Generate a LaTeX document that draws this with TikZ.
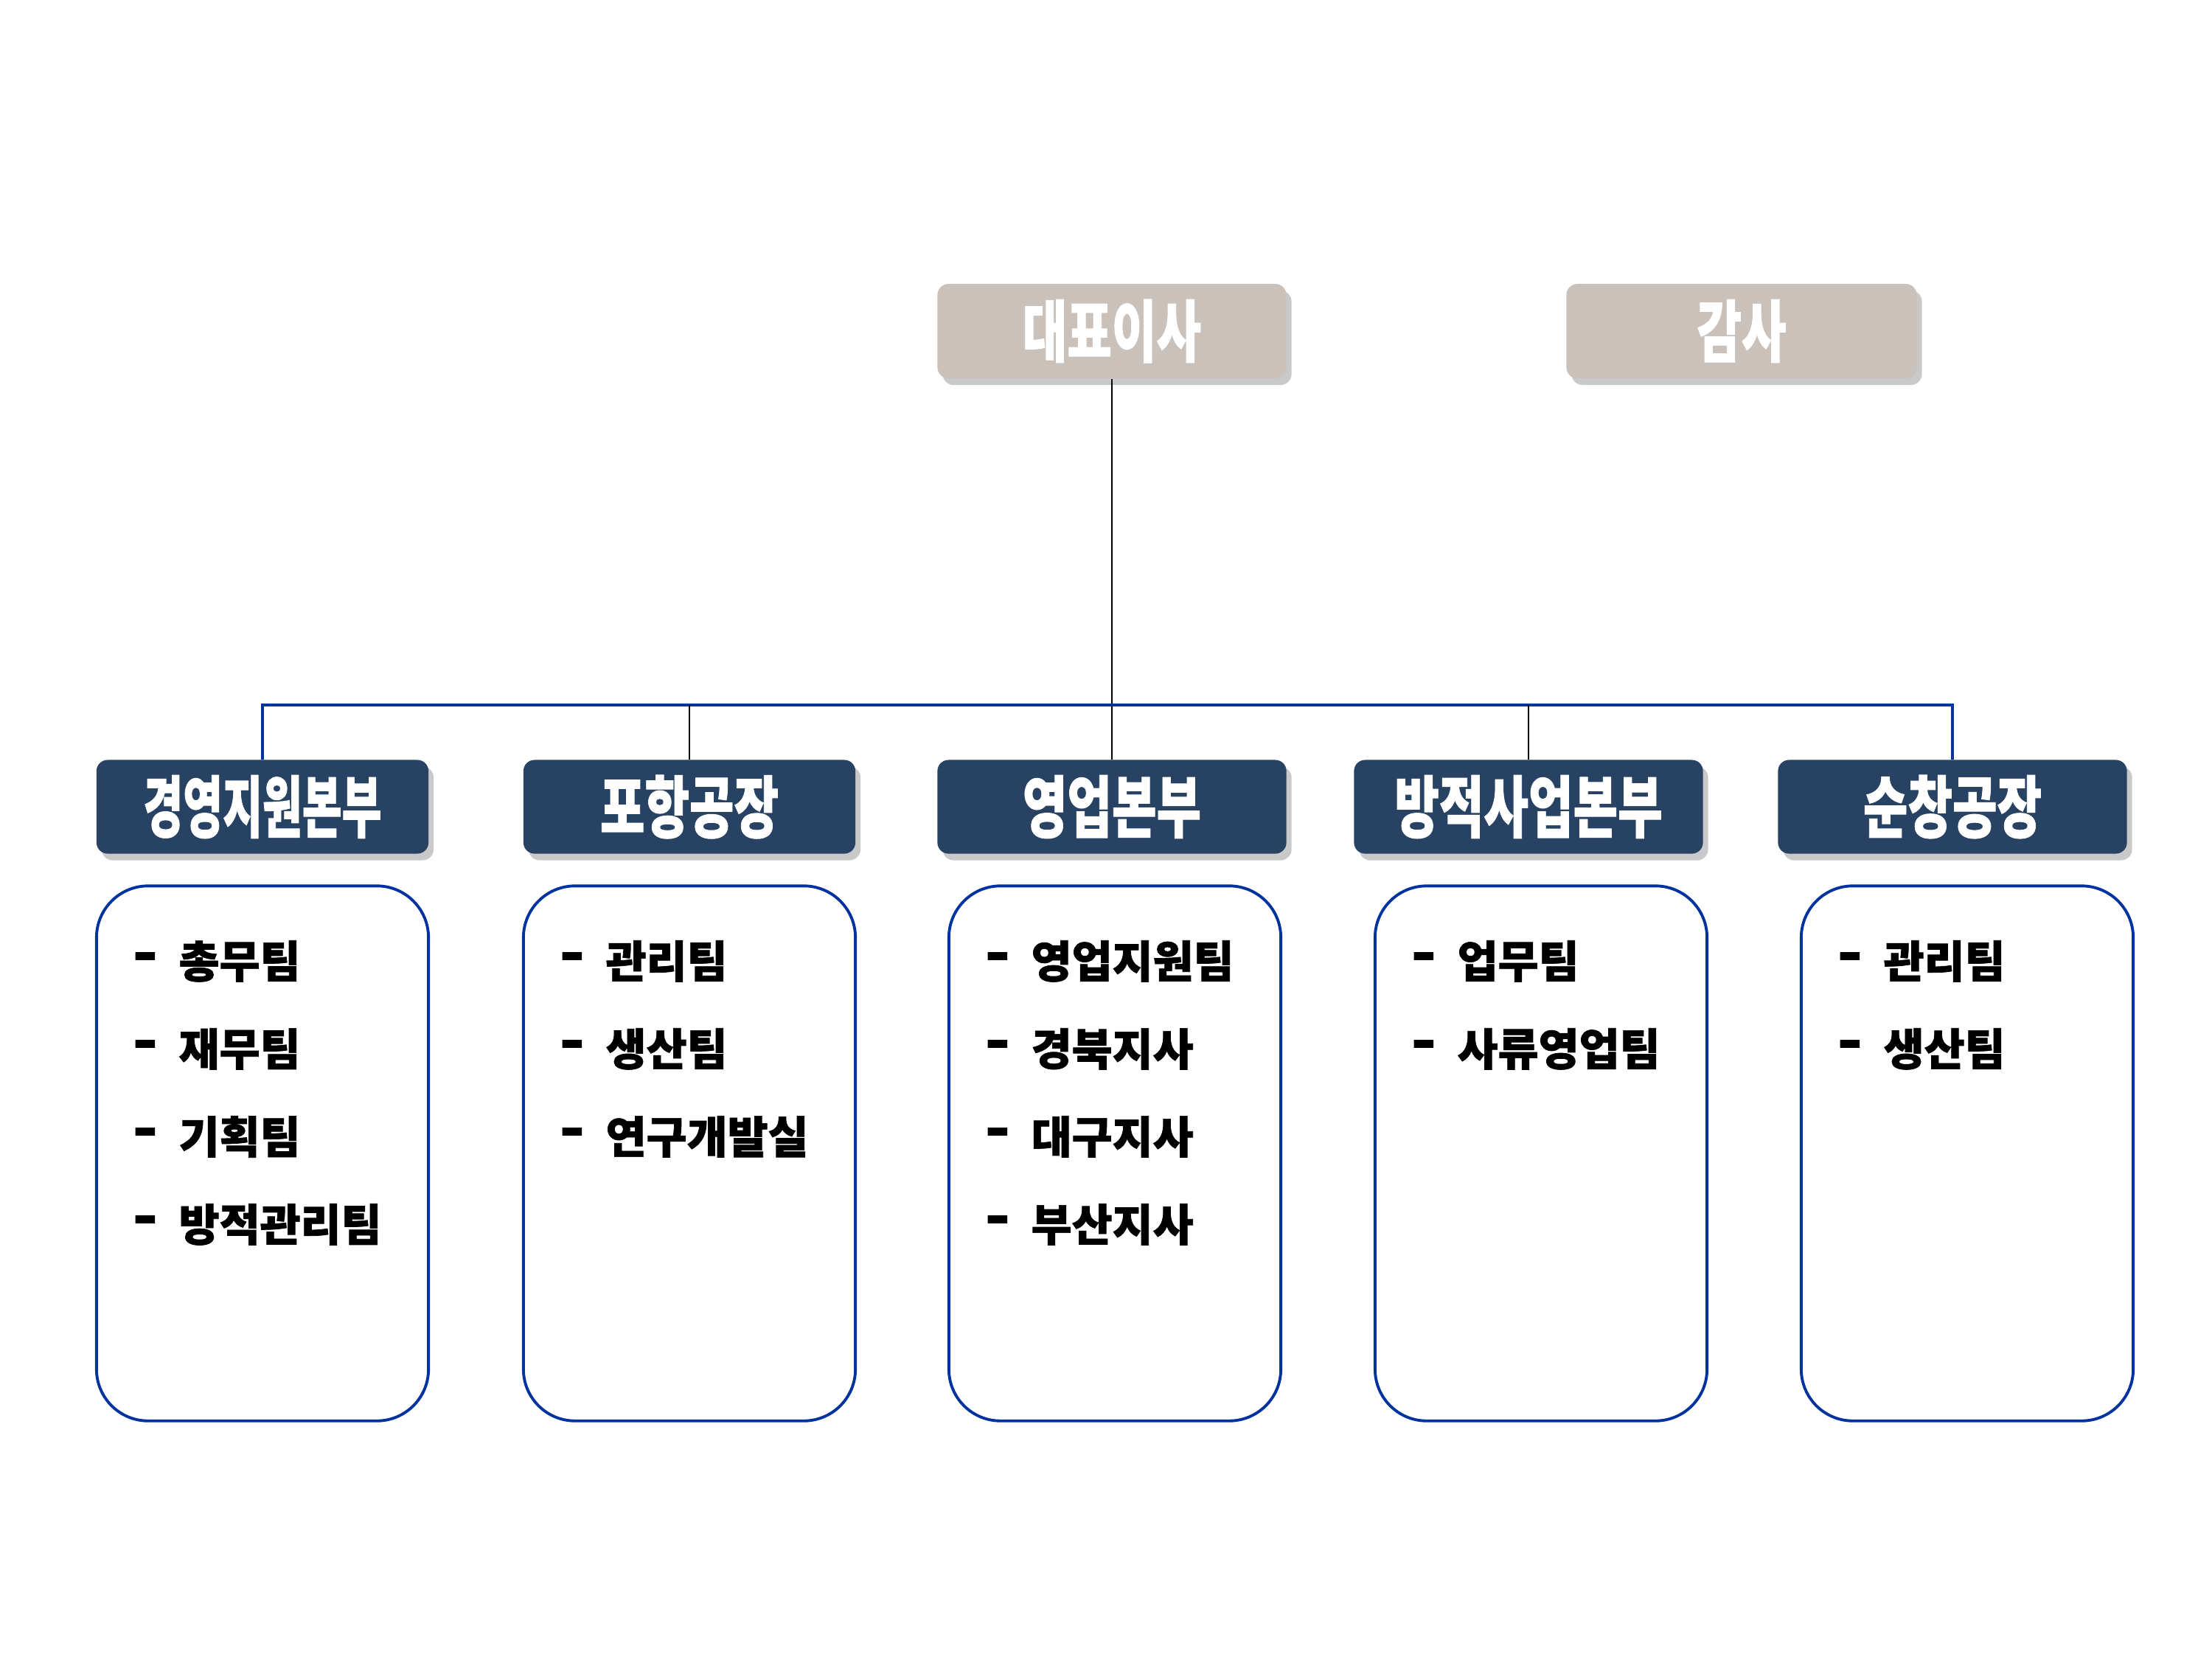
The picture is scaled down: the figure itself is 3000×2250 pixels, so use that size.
\documentclass[tikz,border=0pt]{standalone}
\usepackage{fontspec}
\usepackage{graphicx}
\usetikzlibrary{shadows,calc}
\newfontfamily\krfont{Noto Sans CJK KR}[BoldFeatures={FakeBold=1.2}]
\definecolor{topgray}{RGB}{201,193,186}
\definecolor{navy}{RGB}{40,66,99}
\definecolor{lineblue}{RGB}{0,51,160}
\begin{document}
\begin{tikzpicture}[x=0.01cm,y=-0.01cm,
  boxshadow/.style={drop shadow={shadow xshift=0.07cm, shadow yshift=-0.09cm, opacity=0.35, fill=black!60}},
  topbox/.style={fill=topgray, rounded corners=0.15cm, minimum height=1.28cm, inner sep=0pt, boxshadow, text=white, font=\krfont\bfseries\fontsize{26}{30}\selectfont},
  headbox/.style={fill=navy, rounded corners=0.15cm, minimum height=1.27cm, inner sep=0pt, boxshadow, text=white, font=\krfont\bfseries\fontsize{26}{30}\selectfont},
  listbox/.style={draw=lineblue, line width=1.1pt, rounded corners=0.7cm, minimum width=4.5cm, minimum height=7.25cm, inner sep=0pt},
  itemtxt/.style={anchor=west, inner sep=0pt, text=black, font=\krfont\bfseries\fontsize{17}{20}\selectfont},
  bus/.style={lineblue, line width=1.1pt},
  drop/.style={black, line width=0.8pt}
]
\fill[white] (0,0) rectangle (3000,2250);
\useasboundingbox (0,0) rectangle (3000,2250);

% top boxes
\node[topbox, minimum width=4.73cm] (ceo) at (1508,449) {\scalebox{0.72}[1]{대표이사}};
\node[topbox, minimum width=4.75cm] (audit) at (2362,449) {\scalebox{0.72}[1]{감사}};

% division headers
\node[headbox, minimum width=4.50cm] (mgmt) at (356,1094) {\scalebox{0.64}[1]{경영지원본부}};
\node[headbox, minimum width=4.50cm] (ph) at (935,1094) {\scalebox{0.72}[1]{포항공장}};
\node[headbox, minimum width=4.73cm] (sales) at (1508,1094) {\scalebox{0.72}[1]{영업본부}};
\node[headbox, minimum width=4.73cm] (spin) at (2073,1094) {\scalebox{0.72}[1]{방적사업본부}};
\node[headbox, minimum width=4.73cm] (sc) at (2648,1094) {\scalebox{0.72}[1]{순창공장}};

% list boxes
\node[listbox] (L1) at (356,1564) {};
\node[listbox] (L2) at (935,1564) {};
\node[listbox] (L3) at (1512,1564) {};
\node[listbox] (L4) at (2090,1564) {};
\node[listbox] (L5) at (2668,1564) {};

% connectors
\coordinate (busy) at (0,956);
\draw[drop] (ceo.south) -- (sales.north);
\draw[bus] (mgmt.north) -- (mgmt.north |- busy) -- (sc.north |- busy) -- (sc.north);
\draw[drop] (ph.north) -- (ph.north |- busy);
\draw[drop] (spin.north) -- (spin.north |- busy);

% list items
\foreach \b/\list in {L1/{총무팀,재무팀,기획팀,방적관리팀}, L2/{관리팀,생산팀,연구개발실}, L3/{영업지원팀,경북지사,대구지사,부산지사}, L4/{업무팀,사류영업팀}, L5/{관리팀,생산팀}}{
  \foreach \t [count=\i] in \list {
    \node[itemtxt] (\b d\i) at ($(\b.north west)+(50,{106+119*(\i-1)})$) {\scalebox{1.5}[1.3]{-}};
    \node[itemtxt] (\b t\i) at ($(\b.north west)+(113,{104+119*(\i-1)})$) {\t};
  }
}
\end{tikzpicture}
\end{document}
